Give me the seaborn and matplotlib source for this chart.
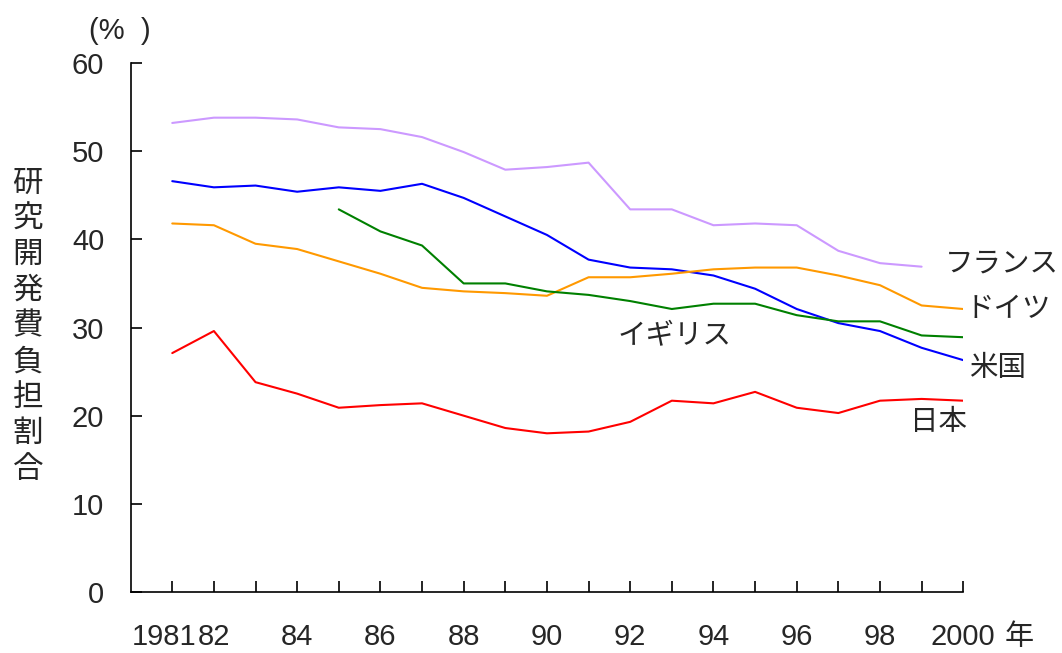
import numpy as np
import pandas as pd
import seaborn as sns
import matplotlib.pyplot as plt
import matplotlib.transforms as mtransforms

years = list(range(1981, 2001))

japan = [27.1, 29.6, 23.8, 22.5, 20.9, 21.2, 21.4, 20.0, 18.6, 18.0,
         18.2, 19.3, 21.7, 21.4, 22.7, 20.9, 20.3, 21.7, 21.9, 21.7]
usa = [46.6, 45.9, 46.1, 45.4, 45.9, 45.5, 46.3, 44.7, 42.6, 40.5,
       37.7, 36.8, 36.6, 35.9, 34.4, 32.1, 30.5, 29.6, 27.7, 26.3]
germany = [41.8, 41.6, 39.5, 38.9, 37.5, 36.1, 34.5, 34.1, 33.9, 33.6,
           35.7, 35.7, 36.1, 36.6, 36.8, 36.8, 35.9, 34.8, 32.5, 32.1]
france = [53.2, 53.8, 53.8, 53.6, 52.7, 52.5, 51.6, 49.9, 47.9, 48.2,
          48.7, 43.4, 43.4, 41.6, 41.8, 41.6, 38.7, 37.3, 36.9, np.nan]
uk = [np.nan, np.nan, np.nan, np.nan, 43.4, 40.9, 39.3, 35.0, 35.0, 34.1,
      33.7, 33.0, 32.1, 32.7, 32.7, 31.4, 30.7, 30.7, 29.1, 28.9]

countries = ["フランス", "米国", "ドイツ", "イギリス", "日本"]
colors = ["#CC99FF", "#0000FF", "#FF9900", "#008000", "#FF0000"]

tick_years = [1981, 1982, 1984, 1986, 1988, 1990, 1992, 1994, 1996, 1998, 2000]
tick_labels = ["1981", "82", "84", "86", "88", "90", "92", "94", "96", "98", "2000"]

def configStyle():
    sns.set_style("ticks")
    plt.rcParams['font.family'] = ['Liberation Sans', 'Noto Sans CJK JP']
    return True

def buildFrame():
    wide = pd.DataFrame({"year": years, "フランス": france, "米国": usa,
                         "ドイツ": germany, "イギリス": uk, "日本": japan})
    df = wide.melt(id_vars="year", var_name="country", value_name="share")
    return df.dropna()

def plotShare(df):
    fig = plt.figure(figsize=(10.62, 6.53), dpi=100)
    ax = fig.add_axes([0.123, 0.0934, 0.784, 0.8101])
    sns.lineplot(data=df, x="year", y="share", hue="country", hue_order=countries,
                 palette=dict(zip(countries, colors)), linewidth=1.5, legend=False, ax=ax)
    sns.despine(ax=ax)
    ax.set_xlim(1980, 2000)
    ax.set_ylim(0, 60)
    ax.set(xlabel='', ylabel='')
    ax.set_xticks(years)
    ax.set_xticklabels([tick_labels[tick_years.index(y)] if y in tick_years else "" for y in years])
    ax.set_yticks([0, 10, 20, 30, 40, 50, 60])
    ax.tick_params(axis='both', direction='in', length=8, width=1.2, labelsize=21, color='black')
    ax.tick_params(axis='x', pad=22)
    ax.tick_params(axis='y', pad=19)
    for s in ax.spines.values():
        s.set_linewidth(1.2)
        s.set_color('black')

    # shift the 1981 label left so it does not run into 82
    shift = mtransforms.ScaledTranslation(-8 / 100, 0, fig.dpi_scale_trans)
    lbl = ax.get_xticklabels()[0]
    lbl.set_transform(lbl.get_transform() + shift)

    ax.text(2001.35, -0.085, "年", transform=ax.get_xaxis_transform(), fontsize=21,
            ha='center', va='center', clip_on=False)
    ax.text(1979.74, 63.6, "(%  )", fontsize=21, ha='center', va='center', clip_on=False)
    ax.text(1977.53, 30.1, "\n".join("研究開発費負担割合"), fontsize=22, ha='center',
            va='center', linespacing=1.25, clip_on=False)

    labels = [("フランス", 2000.94, 37.1), ("ドイツ", 2001.09, 32.0), ("米国", 2000.83, 25.3),
              ("日本", 1999.41, 19.2), ("イギリス", 1993.06, 28.9)]
    for name, x, y in labels:
        ax.text(x, y, name, fontsize=20.5, ha='center', va='center', clip_on=False)

    plt.savefig('out.png', dpi=100)

configStyle()
plotShare(buildFrame())
